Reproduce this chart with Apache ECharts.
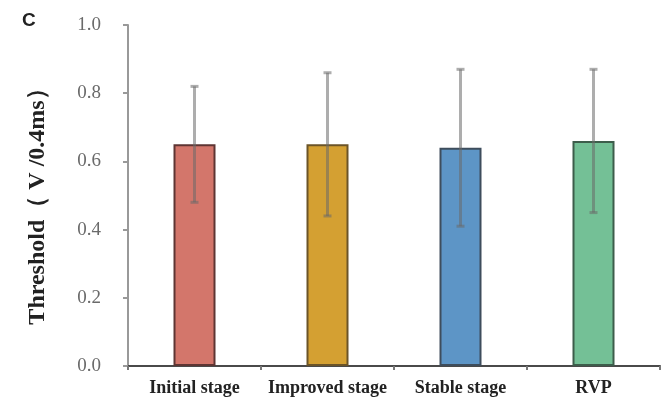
<!DOCTYPE html>
<html>
<head>
<meta charset="utf-8">
<script src="https://cdn.jsdelivr.net/npm/echarts@6/dist/echarts.min.js"></script>
<style>
  html, body { margin: 0; padding: 0; background: #fff; }
  #chart { width: 667px; height: 397px; }
</style>
</head>
<body>
<div id="chart"></div>
<script>
// Pacing threshold per stage (mean ± SD)
const categories = ['Initial stage', 'Improved stage', 'Stable stage', 'RVP'];
const means = [0.65, 0.65, 0.64, 0.66];
const sds = [0.17, 0.21, 0.23, 0.21];
const yTicks = [0, 0.2, 0.4, 0.6, 0.8, 1.0];

const fills = ['#d3766b', '#d4a032', '#5d95c6', '#74c096'];
const borders = ['#5e3533', '#6b5428', '#3e4d5c', '#3d5d4b'];

const serif = '"Liberation Serif", "Times New Roman", serif';

const chart = echarts.init(document.getElementById('chart'), null, { renderer: 'canvas' });

const barData = means.map((v, i) => ({
  value: v,
  itemStyle: { color: fills[i], borderColor: borders[i], borderWidth: 2 }
}));

const errData = means.map((v, i) => [i, v - sds[i], v + sds[i]]);

chart.setOption({
  backgroundColor: '#ffffff',
  animation: false,
  title: {
    text: 'C',
    left: 17,
    top: 6,
    textStyle: { fontFamily: 'Liberation Sans, Arial, sans-serif', fontWeight: 'bold', fontSize: 19, color: '#222' }
  },
  grid: { left: 128, right: 7, top: 25, bottom: 30 },
  xAxis: {
    type: 'category',
    data: categories,
    boundaryGap: true,
    axisLine: { lineStyle: { color: '#4a4a4a', width: 2 } },
    axisTick: { show: true, length: 4, lineStyle: { color: '#777', width: 2 } },
    axisLabel: {
      interval: 0,
      hideOverlap: false,
      margin: 13,
      fontFamily: serif,
      fontWeight: 'bold',
      fontSize: 18,
      color: '#222'
    }
  },
  yAxis: {
    type: 'value',
    min: yTicks[0],
    max: yTicks[yTicks.length - 1],
    interval: 0.2,
    name: 'Threshold（ V /0.4ms）',
    nameLocation: 'middle',
    nameGap: 78,
    nameRotate: 90,
    nameTextStyle: {
      fontFamily: serif,
      fontWeight: 'bold',
      fontSize: 24,
      color: '#222',
      padding: [0, 10, 0, 0]
    },
    splitLine: { show: false },
    axisLine: { show: true, lineStyle: { color: '#999', width: 2 } },
    axisTick: { show: true, length: 5, lineStyle: { color: '#999', width: 2 } },
    axisLabel: {
      margin: 27,
      fontFamily: serif,
      fontSize: 19,
      color: '#6a6a6a',
      formatter: v => v.toFixed(1)
    }
  },
  series: [
    {
      type: 'bar',
      data: barData,
      barWidth: 42,
      z: 2
    },
    {
      type: 'custom',
      data: errData,
      z: 3,
      renderItem: (params, api) => {
        const idx = api.value(0);
        const lo = api.coord([idx, api.value(1)]);
        const hi = api.coord([idx, api.value(2)]);
        const cap = 4;
        const style = { stroke: 'rgba(105,105,105,0.55)', lineWidth: 3 };
        return {
          type: 'group',
          children: [
            { type: 'line', shape: { x1: hi[0], y1: hi[1], x2: lo[0], y2: lo[1] }, style },
            { type: 'line', shape: { x1: hi[0] - cap, y1: hi[1], x2: hi[0] + cap, y2: hi[1] }, style },
            { type: 'line', shape: { x1: lo[0] - cap, y1: lo[1], x2: lo[0] + cap, y2: lo[1] }, style }
          ]
        };
      }
    }
  ]
});
</script>
</body>
</html>
